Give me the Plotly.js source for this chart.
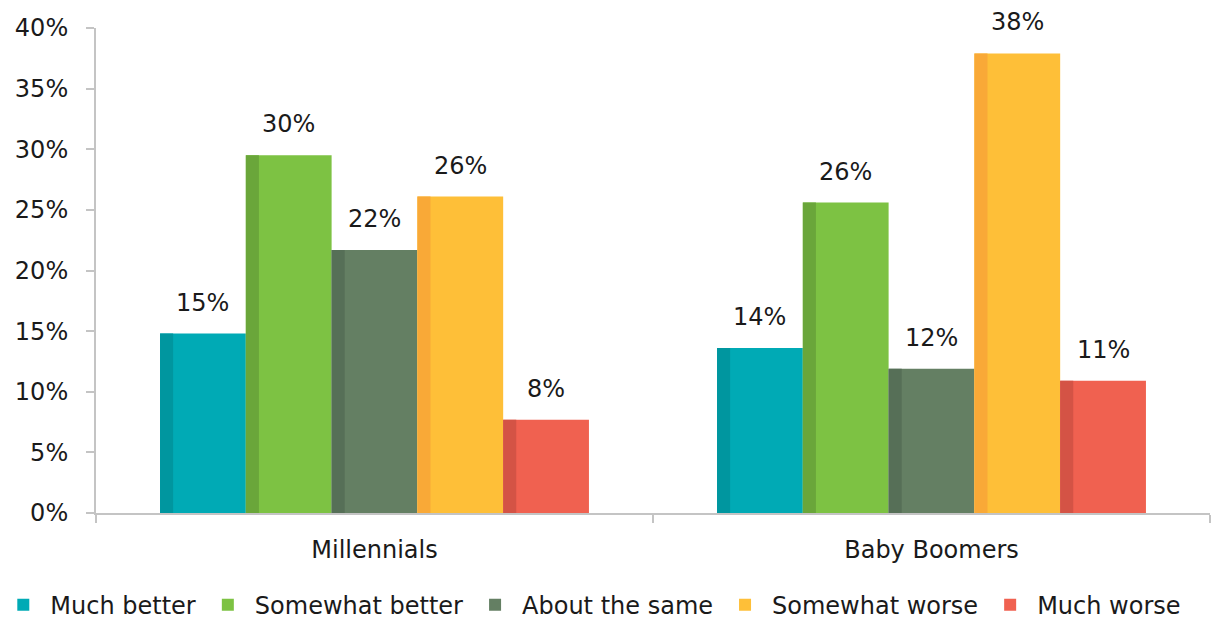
<!DOCTYPE html>
<html>
<head>
<meta charset="utf-8">
<script src="https://cdn.plot.ly/plotly-3.0.1.min.js"></script>
<style>html,body{margin:0;padding:0;background:#fff;}#chart{width:1211px;height:620px;}</style>
</head>
<body>
<div id="chart"></div>
<script>
const categories = ['Millennials', 'Baby Boomers'];
const seriesNames = ['Much better', 'Somewhat better', 'About the same', 'Somewhat worse', 'Much worse'];
const muchBetter = [14.8, 13.6];
const somewhatBetter = [29.5, 25.6];
const aboutSame = [21.7, 11.9];
const somewhatWorse = [26.1, 37.9];
const muchWorse = [7.7, 10.9];
const yTicks = [0, 5, 10, 15, 20, 25, 30, 35, 40];
const yTickText = yTicks.map(v => v + '%');

const seriesValues = [muchBetter, somewhatBetter, aboutSame, somewhatWorse, muchWorse];
const mainColors = ['#00AAB5', '#7DC243', '#647F63', '#FEBF38', '#F06150'];
const stripColors = ['#00969F', '#6AA63A', '#566F57', '#F9A937', '#D45345'];

const FONT = 'DejaVu Sans, Verdana, sans-serif';
const groupWidth = 0.77;
const barW = groupWidth / seriesNames.length;
const stripW = 0.0235;

const traces = [];
const annotations = [];
seriesValues.forEach((vals, i) => {
  const off = -groupWidth / 2 + i * barW;
  traces.push({
    type: 'bar', name: seriesNames[i], x: categories, y: vals,
    width: barW, offset: off,
    marker: {color: mainColors[i], line: {width: 0}},
    hoverinfo: 'name+y'
  });
  traces.push({
    type: 'bar', name: seriesNames[i] + ' edge', x: categories, y: vals,
    width: stripW, offset: off, showlegend: false,
    marker: {color: stripColors[i], line: {width: 0}},
    hoverinfo: 'skip'
  });
  vals.forEach((v, j) => {
    annotations.push({
      x: j + off + barW / 2, y: v, xref: 'x', yref: 'y',
      text: Math.round(v) + '%', showarrow: false,
      yanchor: 'middle', xanchor: 'center', yshift: 31,
      font: {family: FONT, size: 24, color: '#1a1a1a'}
    });
  });
});

const layout = {
  width: 1211, height: 620,
  margin: {l: 96, r: 1, t: 28, b: 107, autoexpand: false},
  paper_bgcolor: '#ffffff', plot_bgcolor: '#ffffff',
  barmode: 'overlay',
  font: {family: FONT, size: 24, color: '#1a1a1a'},
  showlegend: true,
  legend: {
    orientation: 'h', xref: 'paper', yref: 'paper',
    x: -0.0895, xanchor: 'left', y: -0.19, yanchor: 'middle',
    itemwidth: 44,
    font: {family: FONT, size: 24, color: '#1a1a1a'},
    traceorder: 'normal', bgcolor: 'rgba(0,0,0,0)'
  },
  xaxis: {
    type: 'category', range: [-0.5, 1.5],
    showline: true, linecolor: '#C4C4C4', linewidth: 2,
    ticks: 'outside', tickson: 'boundaries', ticklen: 8, tickcolor: '#C4C4C4', tickwidth: 2,
    ticklabelstandoff: 14,
    showgrid: false, zeroline: false,
    tickfont: {family: FONT, size: 24, color: '#1a1a1a'}
  },
  yaxis: {
    range: [0, 40], tickmode: 'array', tickvals: yTicks, ticktext: yTickText,
    showline: true, linecolor: '#C4C4C4', linewidth: 2,
    ticks: 'outside', ticklen: 8, tickcolor: '#C4C4C4', tickwidth: 2,
    ticklabelstandoff: 13,
    showgrid: false, zeroline: false,
    tickfont: {family: FONT, size: 24, color: '#1a1a1a'}
  },
  annotations: annotations
};

Plotly.newPlot('chart', traces, layout, {displayModeBar: false, staticPlot: true});
</script>
</body>
</html>
